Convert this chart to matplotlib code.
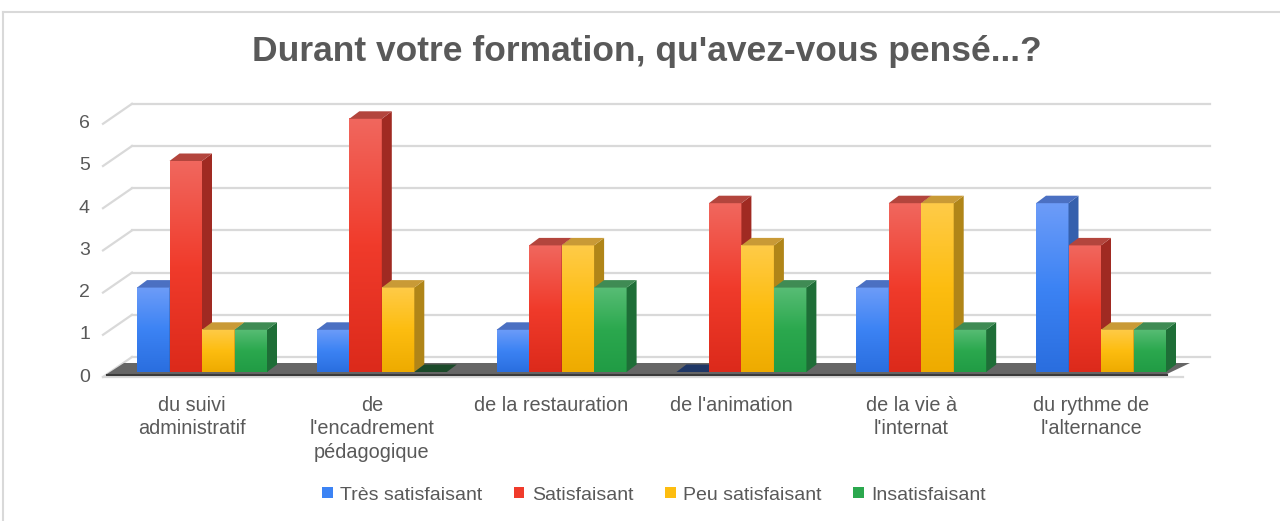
import numpy as np
import matplotlib.pyplot as plt
from matplotlib.patches import Polygon, Patch
from matplotlib.lines import Line2D
from matplotlib.colors import LinearSegmentedColormap

plt.rcParams['font.family'] = ['Liberation Sans', 'DejaVu Sans']

# ===============================
# Data
# ===============================
categories = ["du suivi\nadministratif", "de\nl'encadrement\npédagogique",
              "de la restauration", "de l'animation",
              "de la vie à\nl'internat", "du rythme de\nl'alternance"]
series = ["Très satisfaisant", "Satisfaisant", "Peu satisfaisant", "Insatisfaisant"]
tres_satisfaisant = [2, 1, 1, 0, 2, 4]
satisfaisant = [5, 6, 3, 4, 4, 3]
peu_satisfaisant = [1, 2, 3, 3, 4, 1]
insatisfaisant = [1, 0, 2, 2, 1, 1]
values = [tres_satisfaisant, satisfaisant, peu_satisfaisant, insatisfaisant]
yticks = [0, 1, 2, 3, 4, 5, 6]
title = "Durant votre formation, qu'avez-vous pensé...?"

# face colours: (front top, front mid, front bottom, side, top, zero-bar)
faces = [
    ("#6d9cf8", "#3c83f4", "#2a6edf", "#3560ad", "#4b70c2", "#1f3766"),
    ("#f1675e", "#f03b2b", "#dc2a1b", "#a02a22", "#b3453d", "#6e1a14"),
    ("#ffcb48", "#fdbd10", "#eeab00", "#b08518", "#c99a36", "#6b5208"),
    ("#58bd75", "#2ba84e", "#219c45", "#1e6e37", "#3f8b54", "#1b4a2a"),
]
text_col = "#595959"
grid_col = "#d9d9d9"

# ===============================
# Geometry (pixel scale of the picture)
# ===============================
W, H = 1280, 521
PITCH = 179.8          # px per category
UNIT = 42.2            # px per value unit
X0, Y0 = 202, 372      # px of category 0 centre / value 0


def dx(p):
    return p / PITCH


def dy(p):
    return p / UNIT


def xd(p):
    return (p - X0) / PITCH


fig = plt.figure(figsize=(W / 100, H / 100), dpi=100)
ax = fig.add_axes([(X0 - 0.5 * PITCH) / W, (H - Y0) / H, 6 * PITCH / W, 6 * UNIT / H])
ax.axis("off")

# back wall gridlines + left slants
for v in yticks:
    ax.plot([xd(132), xd(1210)], [v + dy(15), v + dy(15)], color=grid_col, lw=1.6,
            clip_on=False, zorder=1)
    ax.plot([xd(103), xd(132)], [v - dy(5), v + dy(15)], color=grid_col, lw=1.6,
            clip_on=False, zorder=1)
    ax.text(xd(90), v - dy(5), str(v), ha="right", va="center", fontsize=14,
            color=text_col)

# front floor edge
ax.plot([xd(103), xd(1183)], [-dy(5), -dy(5)], color=grid_col, lw=1.6,
        clip_on=False, zorder=1)

# floor slab
floor = Polygon([(xd(107), -dy(2)), (xd(1167), -dy(2)), (xd(1190), dy(9)), (xd(124), dy(9))],
                closed=True, fc="#666666", ec="none", zorder=2, clip_on=False)
ax.add_patch(floor)
ax.plot([xd(107), xd(1167)], [-dy(2.5), -dy(2.5)], color="#3a3a3a", lw=1.5,
        clip_on=False, zorder=2)

# bars
w = 32.5 / PITCH
ddx, ddy = dx(10), dy(7.5)
z = 3
for i in range(len(categories)):
    for j, vals in enumerate(values):
        v = vals[i]
        ftop, fmid, fbot, side, top, zero = faces[j]
        x0 = i - 2 * w + j * w
        x1 = x0 + w
        if v > 0:
            cm = LinearSegmentedColormap.from_list("g", [fbot, fmid, ftop])
            ax.imshow(np.linspace(0, 1, 128).reshape(-1, 1), extent=(x0, x1, 0, v),
                      origin="lower", cmap=cm, aspect="auto", zorder=z,
                      interpolation="bilinear", clip_on=False)
            ax.add_patch(Polygon([(x1, 0), (x1 + ddx, ddy), (x1 + ddx, v + ddy), (x1, v)],
                                 closed=True, fc=side, ec="none", zorder=z, clip_on=False))
            ax.add_patch(Polygon([(x0, v), (x1, v), (x1 + ddx, v + ddy), (x0 + ddx, v + ddy)],
                                 closed=True, fc=top, ec="none", zorder=z, clip_on=False))
        else:
            ax.add_patch(Polygon([(x0, 0), (x1, 0), (x1 + ddx, ddy), (x0 + ddx, ddy)],
                                 closed=True, fc=zero, ec="none", zorder=z, clip_on=False))
        z += 1

# category labels
for i, lab in enumerate(categories):
    ax.text(i - dx(10), -dy(24), lab, ha="center", va="top", fontsize=14.3,
            color=text_col, linespacing=1.3)

ax.set_xlim(-0.5, 5.5)
ax.set_ylim(0, 6)

# title
fig.text(647 / W, 1 - 52 / H, title, ha="center", va="center", fontsize=25.5,
         fontweight="bold", color=text_col)

# legend
handles = [Patch(fc=f[1], ec="none") for f in faces]
fig.legend(handles, series, ncol=4, loc="center", bbox_to_anchor=(654 / W, 1 - 495 / H),
           frameon=False, fontsize=14, handlelength=0.55, handleheight=0.55,
           handletextpad=0.4, columnspacing=1.6, labelcolor=text_col)

# chart frame
fig.add_artist(Line2D([3 / W, 3 / W], [0, 1 - 12 / H], color=grid_col, lw=1.5))
fig.add_artist(Line2D([3 / W, 1], [1 - 12 / H, 1 - 12 / H], color=grid_col, lw=1.5))

fig.savefig("out.png", dpi=100, facecolor="white")
